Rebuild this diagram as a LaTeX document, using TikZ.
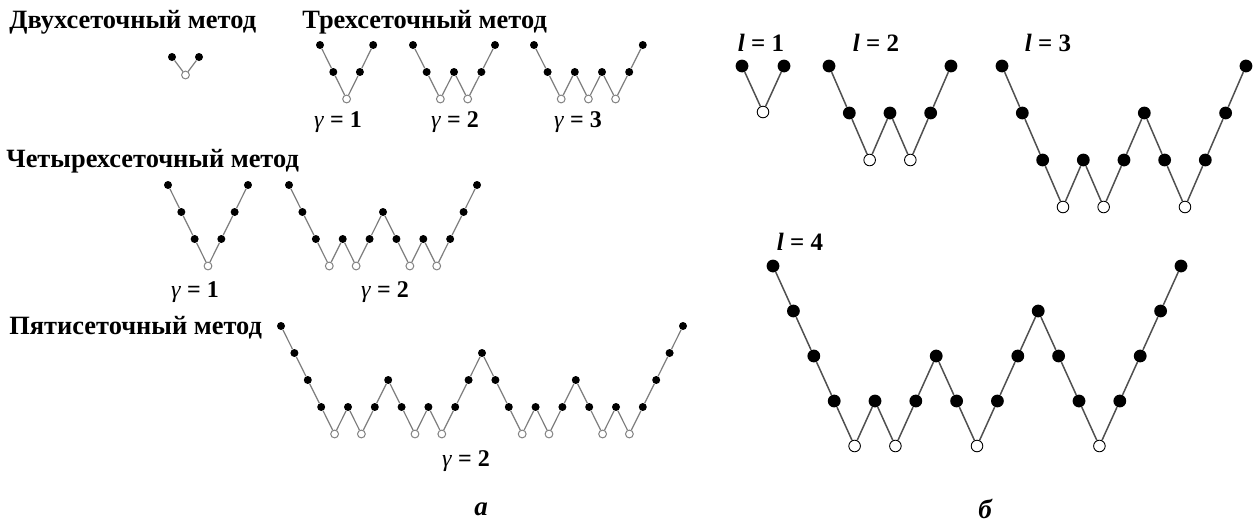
\documentclass[tikz,border=0pt]{standalone}
\usepackage{fontspec}
\setmainfont{Liberation Serif}
\definecolor{alinec}{RGB}{125,125,125}
\definecolor{aopenc}{RGB}{130,130,130}
\definecolor{blinec}{RGB}{80,80,80}
\tikzset{
  adot/.style={circle,fill=black,draw=none,inner sep=0pt,minimum size=4pt},
  aopen/.style={circle,fill=white,draw=aopenc,line width=0.5pt,inner sep=0pt,minimum size=3.9pt},
  aline/.style={alinec,line width=0.6pt},
  bdot/.style={circle,fill=black,draw=none,inner sep=0pt,minimum size=6.4pt},
  bopen/.style={circle,fill=white,draw=black,line width=0.45pt,inner sep=0pt,minimum size=5.8pt},
  bline/.style={blinec,line width=0.75pt},
  titletext/.style={font=\fontsize{13.2}{15}\selectfont\bfseries,anchor=west,inner sep=0pt},
  glabel/.style={font=\fontsize{12}{14}\selectfont,inner sep=0pt},
  captext/.style={font=\fontsize{13.5}{15}\selectfont\bfseries\itshape,inner sep=0pt}
}
% #1 prefix, #2 x0, #3 dx, #4 y top, #5 dy, #6 deepest level, #7 kind (a/b), #8 levels
\newcommand\mgcycle[8]{%
  \foreach \lv [count=\ii] in {#8} {%
    \pgfmathsetmacro\px{#2+(\ii-1)*#3}%
    \pgfmathsetmacro\py{#4+(\lv-1)*#5}%
    \ifnum\lv=#6\relax
      \node[#7open] (#1-\ii) at (\px,\py) {};%
    \else
      \node[#7dot] (#1-\ii) at (\px,\py) {};%
    \fi
  }%
  \foreach \lv [count=\ii, remember=\ii as \jj (initially 0)] in {#8} {%
    \ifnum\jj>0 \draw[#7line] (#1-\jj) -- (#1-\ii);\fi
  }%
}
\begin{document}
\begin{tikzpicture}[x=0.5pt,y=-0.5pt]
\fill[white] (0,0) rectangle (1259,525);
\useasboundingbox (0,0) rectangle (1259,525);

% ---------- panel a ----------
\node[titletext] (t2) at (9,22) {Двухсеточный метод};
\node[titletext] (t3) at (302,22) {Трехсеточный метод};
\node[titletext] (t4) at (6,161) {Четырехсеточный метод};
\node[titletext] (t5) at (9,328) {Пятисеточный метод};

\mgcycle{A2}{172}{13.5}{57}{18}{2}{a}{1,2,1}
\mgcycle{A31}{320}{13.3}{45}{27}{3}{a}{1,2,3,2,1}
\mgcycle{A32}{413}{13.67}{45}{27}{3}{a}{1,2,3,2,3,2,1}
\mgcycle{A33}{534}{13.6}{45}{27}{3}{a}{1,2,3,2,3,2,3,2,1}
\mgcycle{A41}{168}{13.33}{185}{27}{4}{a}{1,2,3,4,3,2,1}
\mgcycle{A42}{289}{13.43}{185}{27}{4}{a}{1,2,3,4,3,4,3,2,3,4,3,4,3,2,1}
\mgcycle{A52}{281}{13.4}{326}{27}{5}{a}{1,2,3,4,5,4,5,4,3,4,5,4,5,4,3,2,3,4,5,4,5,4,3,4,5,4,5,4,3,2,1}

\node[glabel] (g31) at (338,122) {\textit{γ} \textbf{= 1}};
\node[glabel] (g32) at (455,122) {\textit{γ} \textbf{= 2}};
\node[glabel] (g33) at (578,122) {\textit{γ} \textbf{= 3}};
\node[glabel] (g41) at (195,292) {\textit{γ} \textbf{= 1}};
\node[glabel] (g42) at (385,292) {\textit{γ} \textbf{= 2}};
\node[glabel] (g52) at (466,461) {\textit{γ} \textbf{= 2}};
\node[captext] (capa) at (481,509) {а};

% ---------- panel b ----------
\mgcycle{B1}{742}{21}{66}{46}{2}{b}{1,2,1}
\mgcycle{B2}{829}{20.33}{66}{47}{3}{b}{1,2,3,2,3,2,1}
\mgcycle{B3}{1002}{20.33}{66}{47}{4}{b}{1,2,3,4,3,4,3,2,3,4,3,2,1}
\mgcycle{B4}{773}{20.4}{266}{45}{5}{b}{1,2,3,4,5,4,5,4,3,4,5,4,3,2,3,4,5,4,3,2,1}

\node[glabel,font=\fontsize{12.5}{14}\selectfont] (l1) at (761,43) {\textbf{\textit{l} = 1}};
\node[glabel,font=\fontsize{12.5}{14}\selectfont] (l2) at (876,43) {\textbf{\textit{l} = 2}};
\node[glabel,font=\fontsize{12.5}{14}\selectfont] (l3) at (1048,43) {\textbf{\textit{l} = 3}};
\node[glabel,font=\fontsize{12.5}{14}\selectfont] (l4) at (800,242) {\textbf{\textit{l} = 4}};
\node[captext] (capb) at (985,509) {б};
\end{tikzpicture}
\end{document}
